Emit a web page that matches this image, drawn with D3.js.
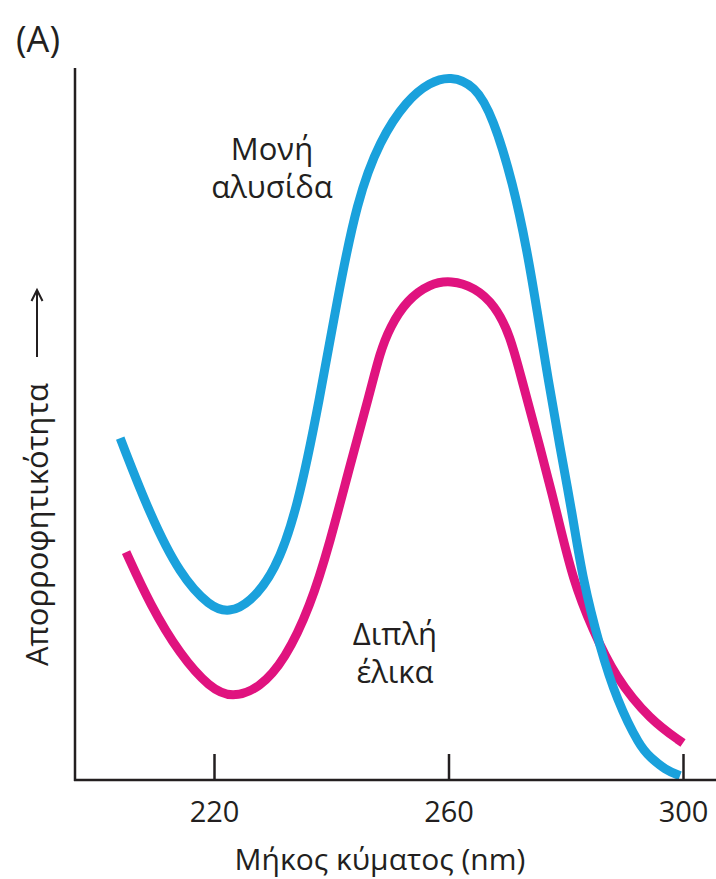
<!DOCTYPE html>
<meta charset="utf-8">
<head>
<style>
body { margin: 0; background: #fff; }
svg { display: block; }
text { font-family: "Open Sans", "Noto Sans", sans-serif; fill: #231f20; }
</style>
<script src="https://d3js.org/d3.v7.min.js"></script>
</head>
<body>
<svg width="716" height="879"></svg>
<script>

// wavelengths (nm) and absorbance (arbitrary, 0-100)
var singleNm  = [204, 209.1, 214.2, 219.3, 222.6, 226.1, 230.4, 234.2, 238.1, 241, 244.4, 248.3, 252.9, 256.8, 260.3, 264.5, 267.6, 271, 273.4, 275.1, 277, 279, 281.1, 282.9, 285.8, 288.7, 292.7, 294.4, 297, 299.5];
var singleAbs = [48.0, 37.2, 28.8, 24.3, 23.5, 24.9, 29.2, 37.9, 53.8, 67.4, 81.5, 89.9, 95.5, 98.0, 98.9, 97.6, 93.1, 83.8, 74.4, 66.0, 56.2, 46.8, 37.5, 28.1, 18.7, 11.2, 4.6, 3.2, 1.4, 0.6];

var doubleNm  = [205, 209.1, 214.2, 219.3, 223.1, 227.8, 232.1, 236.4, 239.8, 243.2, 246.6, 248.3, 250, 252.9, 256.8, 260.4, 264.5, 267.9, 270.5, 272.5, 275.6, 278.5, 281.2, 284.6, 288.4, 294.4, 300];
var doubleAbs = [32.0, 24.6, 17.6, 12.9, 11.5, 12.9, 16.9, 24.3, 33.4, 44.2, 54.4, 60.0, 63.6, 67.4, 69.7, 70.2, 69.2, 66.7, 62.5, 56.2, 46.8, 37.5, 28.1, 21.1, 14.5, 8.4, 5.2];

var tickValues = [220, 260, 300];

var svg = d3.select("svg");

var x = d3.scaleLinear().domain([220, 300]).range([214, 683]);
var y = d3.scaleLinear().domain([0, 100]).range([780, 68]);

var line = d3.line()
    .x(function(d) { return x(d[0]); })
    .y(function(d) { return y(d[1]); })
    .curve(d3.curveBasis);

function pairs(a, b) { return a.map(function(v, i) { return [v, b[i]]; }); }

// curves
svg.append("path")
    .datum(pairs(doubleNm, doubleAbs))
    .attr("d", line)
    .attr("fill", "none")
    .attr("stroke", "#e0137f")
    .attr("stroke-width", 9);

svg.append("path")
    .datum(pairs(singleNm, singleAbs))
    .attr("d", line)
    .attr("fill", "none")
    .attr("stroke", "#1aa1dc")
    .attr("stroke-width", 9);

// axes
var axisColor = "#231f20";
svg.append("line")
    .attr("x1", 75).attr("x2", 75)
    .attr("y1", 68).attr("y2", 781)
    .attr("stroke", axisColor).attr("stroke-width", 2.5);

var xAxis = d3.axisBottom(x)
    .tickValues(tickValues)
    .tickSize(-26)
    .tickPadding(0)
    .tickFormat(d3.format("d"));

var gx = svg.append("g")
    .attr("transform", "translate(0,780)")
    .call(xAxis);
gx.select(".domain").remove();
gx.selectAll(".tick line").attr("stroke", axisColor).attr("stroke-width", 2.5);
gx.selectAll(".tick text")
    .attr("y", 42)
    .attr("dy", 0)
    .style("font-size", "29px")
    .style("font-family", "'Open Sans', 'Noto Sans', sans-serif")
    .attr("fill", axisColor);

svg.append("line")
    .attr("x1", 74).attr("x2", 716)
    .attr("y1", 780).attr("y2", 780)
    .attr("stroke", axisColor).attr("stroke-width", 2.5);

// axis titles
svg.append("text")
    .attr("x", 380).attr("y", 870)
    .attr("text-anchor", "middle")
    .style("font-size", "30px")
    .text("Μήκος κύματος (nm)");

svg.append("text")
    .attr("transform", "translate(48,666) rotate(-90)")
    .attr("text-anchor", "start")
    .style("font-size", "31px")
    .text("Απορροφητικότητα");

// arrow after y title
svg.append("line")
    .attr("x1", 37).attr("x2", 37)
    .attr("y1", 357).attr("y2", 292)
    .attr("stroke", axisColor).attr("stroke-width", 2);
svg.append("path")
    .attr("d", "M31.5,301 L37,290 L42.5,301")
    .attr("fill", "none")
    .attr("stroke", axisColor).attr("stroke-width", 2);

// panel label
svg.append("text")
    .attr("x", 16).attr("y", 52)
    .style("font-size", "36px")
    .text("(A)");

// curve labels
var labels = [
  { t: "Μονή", x: 272, y: 160 },
  { t: "αλυσίδα", x: 272, y: 198 },
  { t: "Διπλή", x: 395, y: 645 },
  { t: "έλικα", x: 395, y: 683 }
];
svg.selectAll(".lbl")
    .data(labels)
    .enter().append("text")
    .attr("class", "lbl")
    .attr("x", function(d) { return d.x; })
    .attr("y", function(d) { return d.y; })
    .attr("text-anchor", "middle")
    .style("font-size", "31px")
    .text(function(d) { return d.t; });

</script>
</body>
